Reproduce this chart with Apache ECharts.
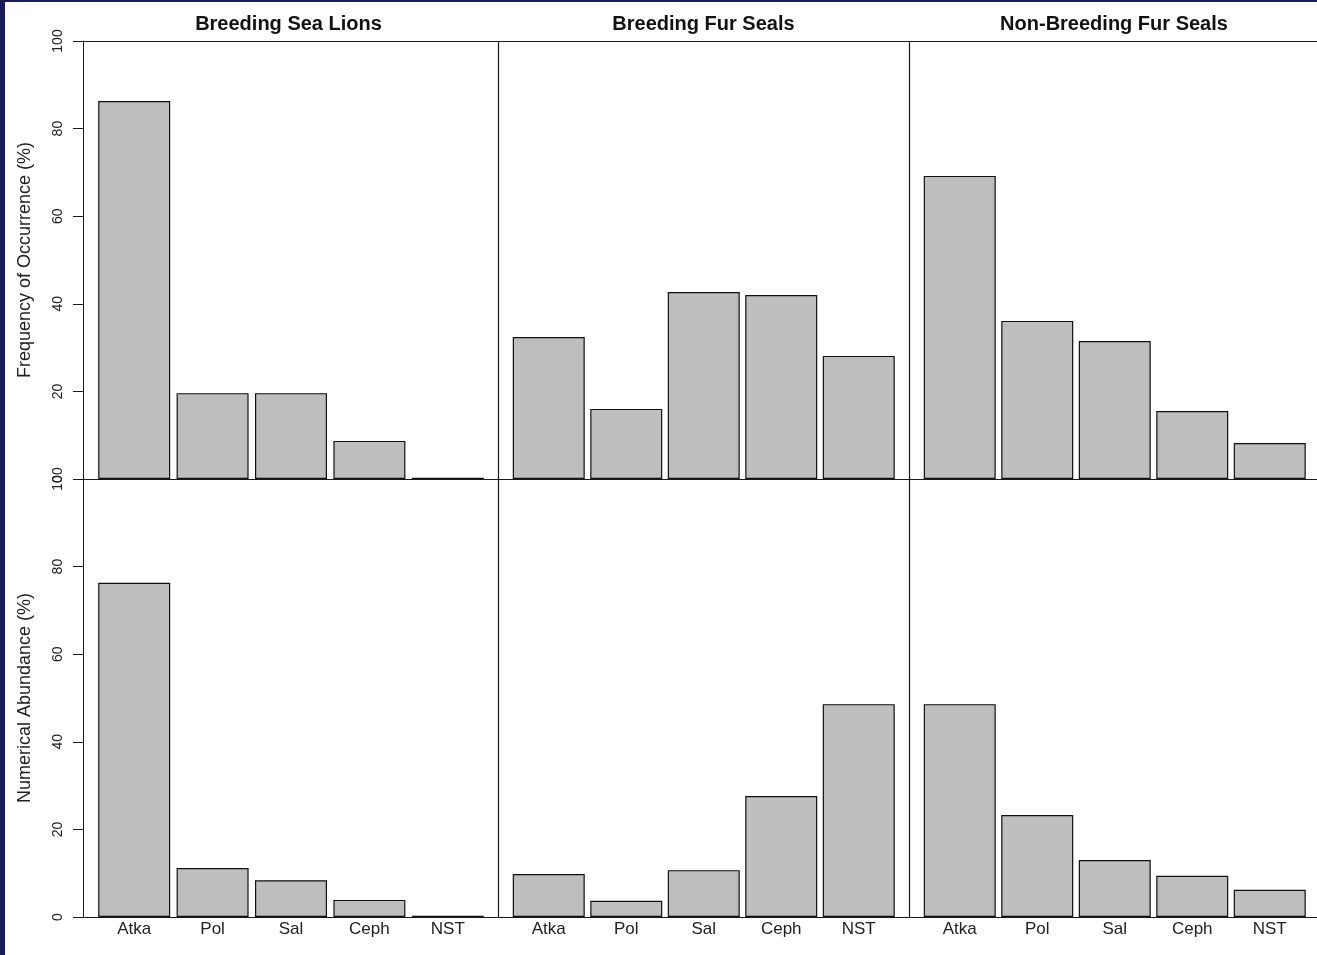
<!DOCTYPE html>
<html>
<head>
<meta charset="utf-8">
<script src="https://cdn.jsdelivr.net/npm/echarts@6/dist/echarts.min.js"></script>
<style>
  html, body { margin: 0; padding: 0; background: #1c1b5b; }
  #main { position: absolute; left: 5px; top: 2px; width: 1312px; height: 953px; background: #fff; }
</style>
</head>
<body>
<div id="main"></div>
<script>
// prey categories
const categories = ["Atka", "Pol", "Sal", "Ceph", "NST"];
const panelTitles = ["Breeding Sea Lions", "Breeding Fur Seals", "Non-Breeding Fur Seals"];
const rowNames = ["Frequency of Occurrence (%)", "Numerical Abundance (%)"];
const yTicks = [0, 20, 40, 60, 80, 100];

// frequency of occurrence (%)
const freqSeaLions = [86.3, 19.6, 19.6, 8.7, 0.3];
const freqBreedFur = [32.4, 16.0, 42.7, 42.0, 28.1];
const freqNonBreedFur = [69.2, 36.1, 31.5, 15.5, 8.2];
// numerical abundance (%)
const abundSeaLions = [76.3, 11.2, 8.4, 3.9, 0.3];
const abundBreedFur = [9.8, 3.7, 10.7, 27.6, 48.6];
const abundNonBreedFur = [48.6, 23.3, 13.0, 9.4, 6.2];

const rows = [
  [freqSeaLions, freqBreedFur, freqNonBreedFur],
  [abundSeaLions, abundBreedFur, abundNonBreedFur]
];

let chart = echarts.init(document.getElementById("main"));
const font = "'Liberation Sans', Arial, sans-serif";
const lineColor = "#1a1a1a";

// layout of panels
const rowTop = [39, 477];
const rowH = 438;
const colLeft = [90, 505, 916];
const colW = [392, 387.5, 387.5];
const titleX = [278.5, 693.5, 1104];

let grids = [], xAxes = [], yAxes = [], series = [];
rows.forEach((row, r) => {
  row.forEach((vals, c) => {
    let idx = grids.length;
    grids.push({ left: colLeft[c], top: rowTop[r], width: colW[c], height: rowH });
    xAxes.push({
      gridIndex: idx,
      type: "category",
      data: categories,
      axisLine: { show: false },
      axisTick: { show: false },
      axisLabel: { show: r === 1, fontFamily: font, fontSize: 17, color: "#222", margin: 4 }
    });
    yAxes.push({
      gridIndex: idx,
      type: "value",
      min: 0,
      max: 100,
      interval: 20,
      show: c === 0,
      offset: 12,
      splitLine: { show: false },
      axisLine: { show: true, lineStyle: { color: lineColor, width: 1 } },
      axisTick: { show: true, length: 10, lineStyle: { color: lineColor } },
      axisLabel: {
        rotate: 90, fontFamily: font, fontSize: 14, color: "#222", margin: 18,
        formatter: (v) => yTicks.includes(v) ? String(v) : ""
      },
      name: rowNames[r],
      nameLocation: "middle",
      nameRotate: 90,
      nameGap: 49,
      nameTextStyle: { fontFamily: font, fontSize: 18, color: "#222" }
    });
    series.push({
      type: "bar",
      xAxisIndex: idx,
      yAxisIndex: idx,
      data: vals,
      barWidth: 72,
      itemStyle: { color: "#bebebe", borderColor: "#111", borderWidth: 1.2 },
      silent: true
    });
  });
});

// panel frame lines
let frame = [];
[39.5, 477.5, 915.5].forEach((y) => {
  frame.push({ type: "line", shape: { x1: 78, y1: y, x2: 1312, y2: y }, style: { stroke: lineColor, lineWidth: 1.2 } });
});
[493.5, 904.5].forEach((x) => {
  frame.push({ type: "line", shape: { x1: x, y1: 39, x2: x, y2: 915 }, style: { stroke: lineColor, lineWidth: 1.2 } });
});

let option = {
  animation: false,
  backgroundColor: "#fff",
  title: panelTitles.map((t, i) => ({
    text: t,
    left: titleX[i],
    top: 7,
    textAlign: "center",
    textStyle: { fontFamily: font, fontSize: 20, fontWeight: "bold", color: "#111" }
  })),
  grid: grids,
  xAxis: xAxes,
  yAxis: yAxes,
  series: series,
  graphic: frame
};
chart.setOption(option);
</script>
</body>
</html>
